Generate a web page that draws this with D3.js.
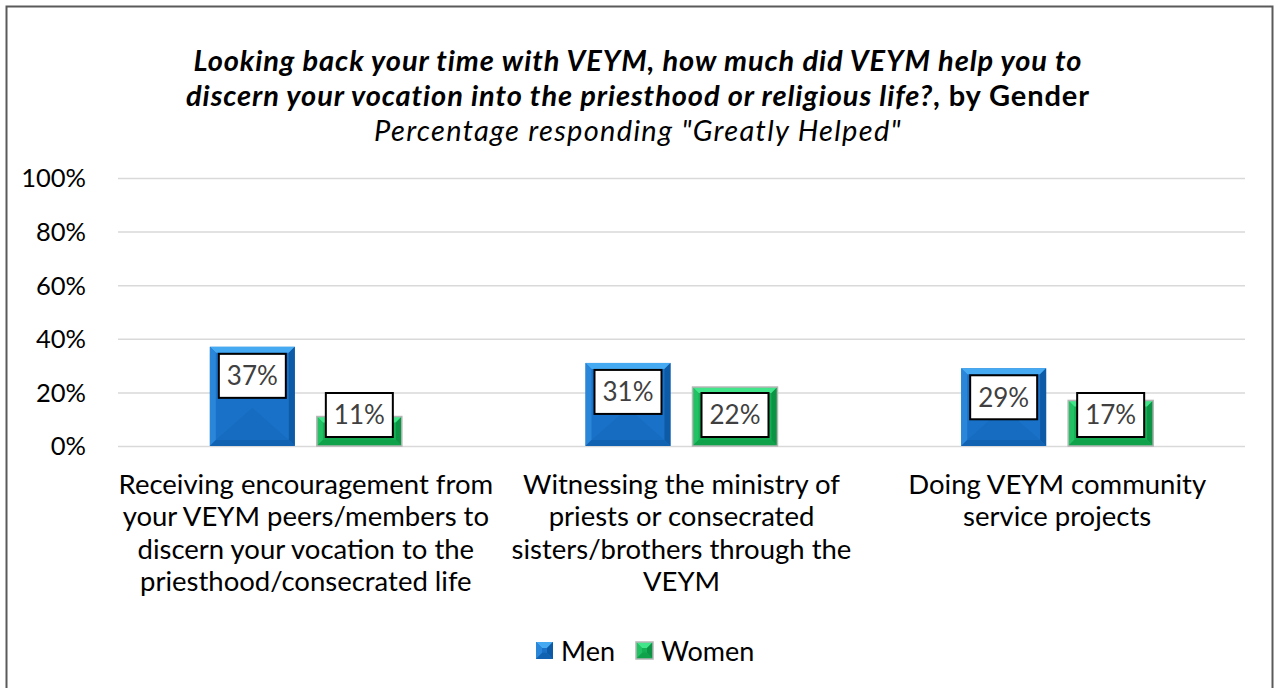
<!DOCTYPE html>
<html>
<head>
<meta charset="utf-8">
<script src="https://cdn.jsdelivr.net/npm/d3@7"></script>
<style>
  body { margin: 0; background: #fff; }
  svg { font-family: Lato, "Open Sans", sans-serif; }
</style>
</head>
<body>
<svg id="chart" width="1276" height="688"></svg>
<script>
const categories = [
  ["Receiving encouragement from", "your VEYM peers/members to", "discern your vocation to the", "priesthood/consecrated life"],
  ["Witnessing the ministry of", "priests or consecrated", "sisters/brothers through the", "VEYM"],
  ["Doing VEYM community", "service projects"]
];
const seriesNames = ["Men", "Women"];
const men = [0.37, 0.31, 0.29];
const women = [0.11, 0.22, 0.17];
const yTicks = [0, 0.2, 0.4, 0.6, 0.8, 1.0];

const svg = d3.select("#chart");
const width = +svg.attr("width");
const height = +svg.attr("height");

const margin = { top: 178, right: 31, bottom: 242, left: 118 };

const colors = {
  Men: { face: "#1a72c8", top: "#46aaf2", left: "#2a86d8", right: "#0d5aa6", bottom: "#1262b2", edge: "none" },
  Women: { face: "#14b154", top: "#42e68a", left: "#22c264", right: "#0b9444", bottom: "#0fa24a", edge: "#b5b5b5" }
};

// outer frame
svg.append("rect")
  .attr("x", 6.5).attr("y", 6.5)
  .attr("width", 1266).attr("height", 700)
  .attr("fill", "none")
  .attr("stroke", "#5a5a5a")
  .attr("stroke-width", 2);

// Title
const title = svg.append("g").attr("text-anchor", "middle").attr("fill", "#000");
title.append("text")
  .attr("x", width / 2).attr("y", 71)
  .attr("font-size", 29).attr("font-weight", "bold").attr("font-style", "italic")
  .attr("letter-spacing", 0.9)
  .text("Looking back your time with VEYM, how much did VEYM help you to");
const t2 = title.append("text")
  .attr("x", width / 2).attr("y", 106)
  .attr("font-size", 29).attr("font-weight", "bold")
  .attr("letter-spacing", 0.9);
t2.append("tspan").attr("font-style", "italic")
  .text("discern your vocation into the priesthood or religious life?");
t2.append("tspan").text(", by Gender");
title.append("text")
  .attr("x", width / 2).attr("y", 141)
  .attr("font-size", 29).attr("font-style", "italic")
  .attr("letter-spacing", 1.3)
  .text("Percentage responding \"Greatly Helped\"");

const y = d3.scaleLinear()
  .domain([0, 1])
  .range([height - margin.bottom, margin.top]);

const x0 = d3.scaleBand()
  .domain(d3.range(categories.length))
  .range([margin.left, width - margin.right])
  .paddingInner(0.489)
  .paddingOuter(0.2445);

const x1 = d3.scaleBand()
  .domain(seriesNames)
  .range([0, x0.bandwidth()])
  .paddingInner(0.206);

// Grid lines
svg.append("g")
  .attr("transform", `translate(${margin.left}, 0)`)
  .call(d3.axisLeft(y).tickValues(yTicks).tickSize(-(width - margin.left - margin.right)).tickFormat(""))
  .call(g => g.select(".domain").remove())
  .selectAll("line")
  .attr("stroke", "#d9d9d9")
  .attr("stroke-width", 1.5);

// Y axis labels
svg.append("g")
  .attr("transform", `translate(${margin.left - 29}, 0)`)
  .call(d3.axisLeft(y).tickValues(yTicks).tickSize(0).tickFormat(d3.format(".0%")))
  .call(g => g.select(".domain").remove())
  .selectAll("text")
  .attr("font-family", "Lato, 'Open Sans', sans-serif")
  .attr("font-size", 25.5)
  .attr("fill", "#000")
  .attr("dy", "0.35em");

// bevelled bars
function drawBar(g, bx, by, bw, bh, c) {
  const b = Math.min(6, bh / 2);
  const poly = pts => pts.map(p => p.join(",")).join(" ");
  g.append("rect").attr("x", bx).attr("y", by).attr("width", bw).attr("height", bh).attr("fill", c.face);
  // subtle lower wedge shading
  g.append("polygon")
    .attr("points", poly([[bx + b, by + bh - b], [bx + bw / 2, by + bh - Math.min(bh * 0.6, bw * 0.45)], [bx + bw - b, by + bh - b]]))
    .attr("fill", c.right).attr("opacity", 0.25);
  g.append("polygon").attr("points", poly([[bx, by], [bx + bw, by], [bx + bw - b, by + b], [bx + b, by + b]])).attr("fill", c.top);
  g.append("polygon").attr("points", poly([[bx, by], [bx + b, by + b], [bx + b, by + bh - b], [bx, by + bh]])).attr("fill", c.left);
  g.append("polygon").attr("points", poly([[bx + bw, by], [bx + bw, by + bh], [bx + bw - b, by + bh - b], [bx + bw - b, by + b]])).attr("fill", c.right);
  g.append("polygon").attr("points", poly([[bx, by + bh], [bx + bw, by + bh], [bx + bw - b, by + bh - b], [bx + b, by + bh - b]])).attr("fill", c.bottom);
  if (c.edge !== "none") {
    g.append("rect").attr("x", bx).attr("y", by).attr("width", bw).attr("height", bh)
      .attr("fill", "none").attr("stroke", c.edge).attr("stroke-width", 1.5);
  }
}

const rows = [];
categories.forEach((cat, i) => {
  rows.push({ i, s: "Men", v: men[i] });
  rows.push({ i, s: "Women", v: women[i] });
});

const bars = svg.append("g");
rows.forEach(d => {
  const bx = x0(d.i) + x1(d.s);
  const by = y(d.v);
  drawBar(bars.append("g"), bx, by, x1.bandwidth(), y(0) - by, colors[d.s]);
});

// data labels
const labels = svg.append("g");
rows.forEach(d => {
  const cx = x0(d.i) + x1(d.s) + x1.bandwidth() / 2;
  const cy = Math.min(y(d.v) + 29, y(0) - 31);
  labels.append("rect")
    .attr("x", cx - 33.5).attr("y", cy - 22)
    .attr("width", 67).attr("height", 44)
    .attr("fill", "#fff").attr("stroke", "#000").attr("stroke-width", 2);
  labels.append("text")
    .attr("x", cx).attr("y", cy)
    .attr("dy", "0.36em")
    .attr("text-anchor", "middle")
    .attr("font-size", 26)
    .attr("fill", "#404040")
    .text(d3.format(".0%")(d.v));
});

// category labels
const catG = svg.append("g").attr("text-anchor", "middle").attr("font-size", 27.5).attr("fill", "#000");
categories.forEach((lines, i) => {
  const t = catG.append("text").attr("x", x0(i) + x0.bandwidth() / 2).attr("y", 494);
  lines.forEach((line, j) => {
    t.append("tspan").attr("x", x0(i) + x0.bandwidth() / 2).attr("dy", j === 0 ? 0 : 32.3).text(line);
  });
});

// Legend
const legend = svg.append("g").attr("transform", "translate(536, 642)");
const legendX = [0, 100];
seriesNames.forEach((s, i) => {
  const g = legend.append("g").attr("transform", `translate(${legendX[i]}, 0)`);
  drawBar(g, 0, 0, 17, 17, colors[s]);
  g.append("text")
    .attr("x", 25).attr("y", 9)
    .attr("dy", "0.36em")
    .attr("font-size", 27)
    .attr("fill", "#000")
    .text(s);
});
</script>
</body>
</html>
